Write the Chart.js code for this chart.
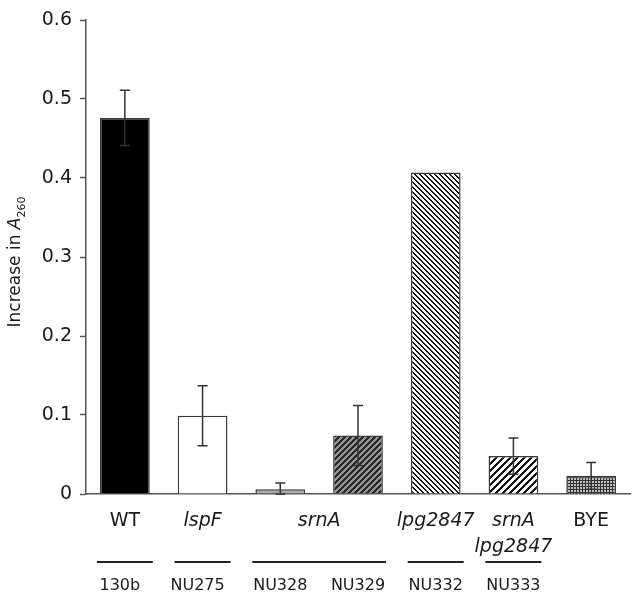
<!DOCTYPE html>
<html>
<head>
<meta charset="utf-8">
<script src="https://cdn.jsdelivr.net/npm/chart.js@4.4.1/dist/chart.umd.min.js"></script>
<style>
  body { margin: 0; background: #fff; }
  canvas { display: block; }
</style>
</head>
<body>
<canvas id="absChart" width="636" height="598"></canvas>
<script>
// strain names (bottom row) and genotype labels (upper row)
const strains = ['130b', 'NU275', 'NU328', 'NU329', 'NU332', 'NU333', ''];
const genotypes = ['WT', 'lspF', 'srnA', 'srnA', 'lpg2847', 'srnA\nlpg2847', 'BYE'];
const italicGenotype = [false, true, true, true, true, true, false];

// increase in A260, with error bars
const values = [0.476, 0.099, 0.006, 0.074, 0.407, 0.048, 0.023];
const errors = [0.035, 0.038, 0.008, 0.038, 0, 0.023, 0.017];

const yTicks = [0, 0.1, 0.2, 0.3, 0.4, 0.5, 0.6];

const FONT = '"DejaVu Sans", sans-serif';
const TEXT = '#1a1a1a';

// small tiles for the hatched fills
function makePattern(size, paint) {
  const c = document.createElement('canvas');
  c.width = c.height = size;
  const g = c.getContext('2d');
  const img = g.createImageData(size, size);
  for (let y = 0; y < size; y++) {
    for (let x = 0; x < size; x++) {
      const col = paint(x, y);
      const i = (y * size + x) * 4;
      img.data[i] = col[0];
      img.data[i + 1] = col[1];
      img.data[i + 2] = col[2];
      img.data[i + 3] = 255;
    }
  }
  g.putImageData(img, 0, 0);
  return g.createPattern(c, 'repeat');
}

const black = [20, 20, 20], white = [255, 255, 255];
// "\" stripes
const backStripes = makePattern(5, (x, y) => (((x - y) % 5) + 5) % 5 < 2 ? black : white);
// "/" stripes, dark on grey
const greyStripes = makePattern(6, (x, y) => (x + y) % 6 < 3 ? [40, 40, 40] : [150, 150, 150]);
// "/" stripes, black on white
const fwdStripes = makePattern(7, (x, y) => (x + y) % 7 < 3 ? black : white);
// small grid
const grid = makePattern(3, (x, y) => (x % 3 === 0 || y % 3 === 0) ? [50, 50, 50] : [190, 190, 190]);

const fills = ['#000000', '#ffffff', '#aaaaaa', greyStripes, backStripes, fwdStripes, grid];

const extrasPlugin = {
  id: 'extras',
  afterDatasetsDraw(chart) {
    const ctx = chart.ctx;
    const yScale = chart.scales.y;
    const meta = chart.getDatasetMeta(0);
    ctx.save();
    ctx.strokeStyle = '#333';
    ctx.lineWidth = 1.5;
    meta.data.forEach((bar, i) => {
      if (!errors[i]) return;
      const yt = yScale.getPixelForValue(values[i] + errors[i]);
      const yb = yScale.getPixelForValue(Math.max(0, values[i] - errors[i]));
      ctx.beginPath();
      ctx.moveTo(bar.x, yt);
      ctx.lineTo(bar.x, yb);
      ctx.moveTo(bar.x - 5, yt);
      ctx.lineTo(bar.x + 5, yt);
      ctx.moveTo(bar.x - 5, yb);
      ctx.lineTo(bar.x + 5, yb);
      ctx.stroke();
    });
    ctx.restore();
  },
  afterDraw(chart) {
    const ctx = chart.ctx;
    const meta = chart.getDatasetMeta(0);
    const xs = meta.data.map(b => b.x);
    ctx.save();
    ctx.fillStyle = TEXT;
    ctx.textAlign = 'center';
    ctx.textBaseline = 'middle';

    // genotype row: merge neighbours with the same label
    let i = 0;
    while (i < genotypes.length) {
      let j = i;
      while (j + 1 < genotypes.length && genotypes[j + 1] === genotypes[i]) j++;
      const cx = (xs[i] + xs[j]) / 2;
      ctx.font = (italicGenotype[i] ? 'italic ' : '') + '19px ' + FONT;
      genotypes[i].split('\n').forEach((line, k) => ctx.fillText(line, cx, 521 + k * 26));
      i = j + 1;
    }

    // underline per genotype group, then strain names
    ctx.strokeStyle = '#222';
    ctx.lineWidth = 2;
    i = 0;
    while (i < strains.length) {
      if (!strains[i]) { i++; continue; }
      let j = i;
      while (j + 1 < genotypes.length && genotypes[j + 1] === genotypes[i] && strains[j + 1]) j++;
      ctx.beginPath();
      ctx.moveTo(xs[i] - 28, 562);
      ctx.lineTo(xs[j] + 28, 562);
      ctx.stroke();
      i = j + 1;
    }
    ctx.font = '16px ' + FONT;
    strains.forEach((s, k) => { if (s) ctx.fillText(s, xs[k] - (k < 2 ? 5 : 0), 586); });

    // y title with italic A and subscript 260
    ctx.translate(16, 262);
    ctx.rotate(-Math.PI / 2);
    ctx.textAlign = 'left';
    ctx.textBaseline = 'middle';
    const p1 = 'Increase in ';
    ctx.font = '17px ' + FONT;
    const w1 = ctx.measureText(p1).width;
    ctx.font = 'italic 17px ' + FONT;
    const w2 = ctx.measureText('A').width;
    ctx.font = '11px ' + FONT;
    const w3 = ctx.measureText('260').width;
    let x0 = -(w1 + w2 + w3) / 2;
    ctx.font = '17px ' + FONT;
    ctx.fillText(p1, x0, 0);
    ctx.font = 'italic 17px ' + FONT;
    ctx.fillText('A', x0 + w1, 0);
    ctx.font = '11px ' + FONT;
    ctx.fillText('260', x0 + w1 + w2, 6);
    ctx.restore();
  }
};

new Chart(document.getElementById('absChart').getContext('2d'), {
  type: 'bar',
  data: {
    labels: strains.map((s, i) => s || genotypes[i]),
    datasets: [{
      data: values,
      backgroundColor: fills,
      borderColor: '#3a3a3a',
      borderWidth: 1.5,
      categoryPercentage: 1,
      barPercentage: 0.64
    }]
  },
  options: {
    responsive: false,
    animation: false,
    devicePixelRatio: 1,
    layout: { padding: { top: 20, right: 6, left: 0, bottom: 0 } },
    plugins: { legend: { display: false }, tooltip: { enabled: false } },
    scales: {
      x: {
        grid: { display: false },
        border: { display: true, color: '#555', width: 1.5 },
        ticks: { display: false },
        afterFit: scale => { scale.height = 104; }
      },
      y: {
        min: 0,
        max: 0.6,
        grid: { display: true, drawOnChartArea: false, drawTicks: true, tickLength: 6, tickColor: '#555', tickWidth: 1.5 },
        border: { display: true, color: '#555', width: 1.5 },
        afterBuildTicks: scale => { scale.ticks = yTicks.map(v => ({ value: v })); },
        ticks: {
          color: TEXT,
          padding: 8,
          font: { family: FONT, size: 19 },
          callback: v => v === 0 ? '0' : v.toFixed(1)
        },
        afterFit: scale => { scale.width = 86; }
      }
    }
  },
  plugins: [extrasPlugin]
});
</script>
</body>
</html>
